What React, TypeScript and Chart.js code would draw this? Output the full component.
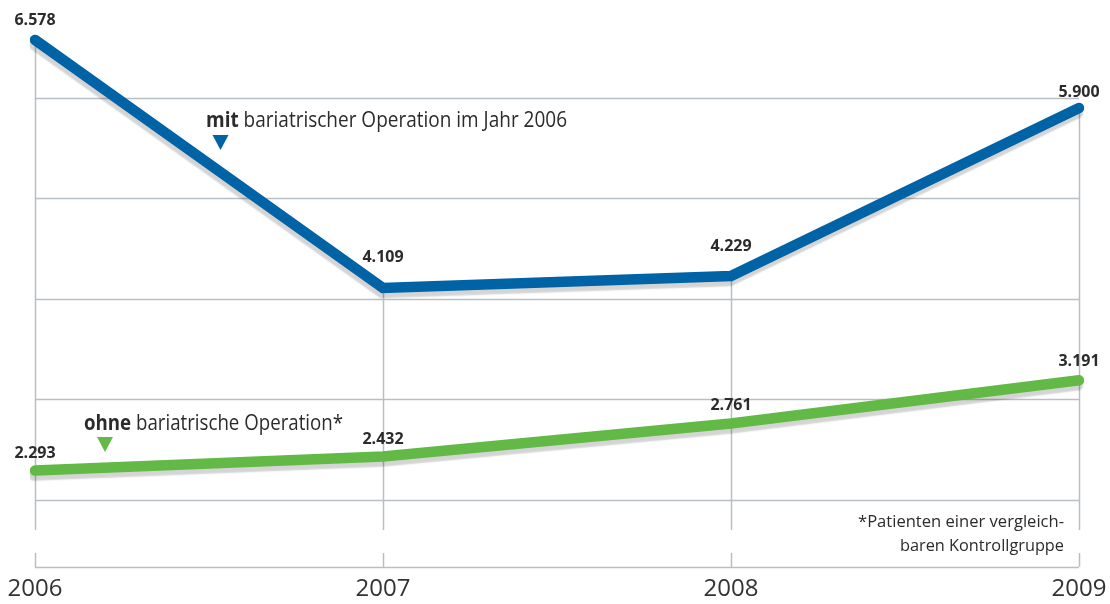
import React, { useEffect, useRef } from "react";
import { Chart, registerables } from "chart.js";

Chart.register(...registerables);

// ---- data ----
const years = ["2006", "2007", "2008", "2009"];
const mitOperation = [6578, 4109, 4229, 5900];
const ohneOperation = [2293, 2432, 2761, 3191];
const mitLabelOffsets = [-19, -31, -30, -16];
const ohneLabelOffsets = [-17, -17, -18, -19];
const gridValues = [2000, 3000, 4000, 5000, 6000];
const yMin = 1333;
const yMax = 6975;

// ---- style ----
const BLUE = "#0063a6";
const GREEN = "#62b946";
const GRID = "#b7bec6";
const TEXT = "#2b2b2b";
const FONT = "'Open Sans', 'Noto Sans', sans-serif";

function fmt(v: number) {
  return (v / 1000).toFixed(3);
}

type Part = { text: string; bold?: boolean };

function fitText(
  ctx: CanvasRenderingContext2D,
  parts: Part[],
  x: number,
  y: number,
  width: number,
  size: number,
  align: "left" | "right"
) {
  ctx.save();
  ctx.textBaseline = "alphabetic";
  ctx.textAlign = "left";
  ctx.fillStyle = TEXT;
  let total = 0;
  const widths = parts.map((p) => {
    ctx.font = `${p.bold ? "bold " : ""}${size}px ${FONT}`;
    const w = ctx.measureText(p.text).width;
    total += w;
    return w;
  });
  const s = width / total;
  const x0 = align === "left" ? x : x - width;
  ctx.translate(x0, y);
  ctx.scale(s, 1);
  let cx = 0;
  parts.forEach((p, i) => {
    ctx.font = `${p.bold ? "bold " : ""}${size}px ${FONT}`;
    ctx.fillText(p.text, cx, 0);
    cx += widths[i];
  });
  ctx.restore();
}

function triangle(ctx: CanvasRenderingContext2D, cx: number, top: number, w: number, h: number, color: string) {
  ctx.save();
  ctx.fillStyle = color;
  ctx.beginPath();
  ctx.moveTo(cx - w / 2, top);
  ctx.lineTo(cx + w / 2, top);
  ctx.lineTo(cx, top + h);
  ctx.closePath();
  ctx.fill();
  ctx.restore();
}

const decorPlugin = {
  id: "decor",
  beforeDatasetsDraw(chart: any) {
    const { ctx, chartArea, scales } = chart;
    const y = scales.y;
    const pts = chart.getDatasetMeta(0).data;
    const gapTop = chartArea.bottom - 37;
    const gapBottom = chartArea.bottom - 14;
    ctx.save();
    ctx.strokeStyle = GRID;
    ctx.lineWidth = 1.5;
    // horizontal grid lines
    gridValues.forEach((v) => {
      const py = Math.round(y.getPixelForValue(v)) + 0.5;
      ctx.beginPath();
      ctx.moveTo(chartArea.left, py);
      ctx.lineTo(chartArea.right, py);
      ctx.stroke();
    });
    // baseline
    const by = Math.round(chartArea.bottom) + 0.5;
    ctx.beginPath();
    ctx.moveTo(chartArea.left, by);
    ctx.lineTo(chartArea.right, by);
    ctx.stroke();
    // vertical lines with axis break
    pts.forEach((p: any) => {
      const px = Math.round(p.x) + 0.5;
      ctx.beginPath();
      ctx.moveTo(px, p.y);
      ctx.lineTo(px, gapTop);
      ctx.moveTo(px, gapBottom);
      ctx.lineTo(px, chartArea.bottom);
      ctx.stroke();
    });
    // x labels
    ctx.font = `24px ${FONT}`;
    ctx.fillStyle = "#333";
    ctx.textAlign = "center";
    ctx.textBaseline = "middle";
    const xs = scales.x;
    years.forEach((yr, i) => {
      ctx.fillText(yr, xs.getPixelForValue(i), chartArea.bottom + 22);
    });
    ctx.restore();
  },
  beforeDatasetDraw(chart: any) {
    const ctx = chart.ctx;
    ctx.save();
    ctx.shadowColor = "rgba(0,0,0,0.17)";
    ctx.shadowOffsetX = -1;
    ctx.shadowOffsetY = 5;
    ctx.shadowBlur = 1.5;
  },
  afterDatasetDraw(chart: any) {
    chart.ctx.restore();
  },
  afterDatasetsDraw(chart: any) {
    const { ctx, chartArea } = chart;
    const drawLabels = (idx: number, values: number[], offs: number[]) => {
      const pts = chart.getDatasetMeta(idx).data;
      ctx.save();
      ctx.font = `bold 16px ${FONT}`;
      ctx.fillStyle = TEXT;
      ctx.textAlign = "center";
      ctx.textBaseline = "middle";
      pts.forEach((p: any, i: number) => {
        ctx.fillText(fmt(values[i]), p.x, p.y + offs[i]);
      });
      ctx.restore();
    };
    drawLabels(0, mitOperation, mitLabelOffsets);
    drawLabels(1, ohneOperation, ohneLabelOffsets);

    // series annotations
    fitText(ctx, [{ text: "mit", bold: true }, { text: " bariatrischer Operation im Jahr 2006" }], 206, 127, 361, 21, "left");
    triangle(ctx, 220.5, 135, 16, 15, BLUE);
    fitText(ctx, [{ text: "ohne", bold: true }, { text: " bariatrische Operation*" }], 84, 430, 259, 21, "left");
    triangle(ctx, 105, 437, 16, 15, GREEN);

    // footnote
    const r = chartArea.right - 15;
    fitText(ctx, [{ text: "*Patienten einer vergleich-" }], r, 527, 206, 16, "right");
    fitText(ctx, [{ text: "baren Kontrollgruppe" }], r, 551, 164, 16, "right");
  },
};

export default function App() {
  const ref = useRef<HTMLCanvasElement | null>(null);
  useEffect(() => {
    if (!ref.current) return;
    const chart = new Chart(ref.current, {
      type: "line",
      data: {
        labels: years,
        datasets: [
          {
            label: "mit bariatrischer Operation im Jahr 2006",
            data: mitOperation,
            borderColor: BLUE,
            borderWidth: 10.5,
            borderCapStyle: "round",
            borderJoinStyle: "miter",
            pointRadius: 0,
            tension: 0,
            fill: false,
          },
          {
            label: "ohne bariatrische Operation*",
            data: ohneOperation,
            borderColor: GREEN,
            borderWidth: 10.5,
            borderCapStyle: "round",
            borderJoinStyle: "miter",
            pointRadius: 0,
            tension: 0,
            fill: false,
          },
        ],
      },
      options: {
        animation: false,
        responsive: true,
        maintainAspectRatio: false,
        layout: { padding: { left: 35, right: 31, top: 0, bottom: 37 } },
        plugins: { legend: { display: false }, tooltip: { enabled: false } },
        scales: {
          x: { type: "category", offset: false, display: false },
          y: { min: yMin, max: yMax, display: false },
        },
      },
      plugins: [decorPlugin],
    } as any);
    return () => chart.destroy();
  }, []);
  return (
    <div style={{ position: "absolute", left: 0, top: 0, width: 1110, height: 604, background: "#fff" }}>
      <canvas ref={ref} />
    </div>
  );
}
